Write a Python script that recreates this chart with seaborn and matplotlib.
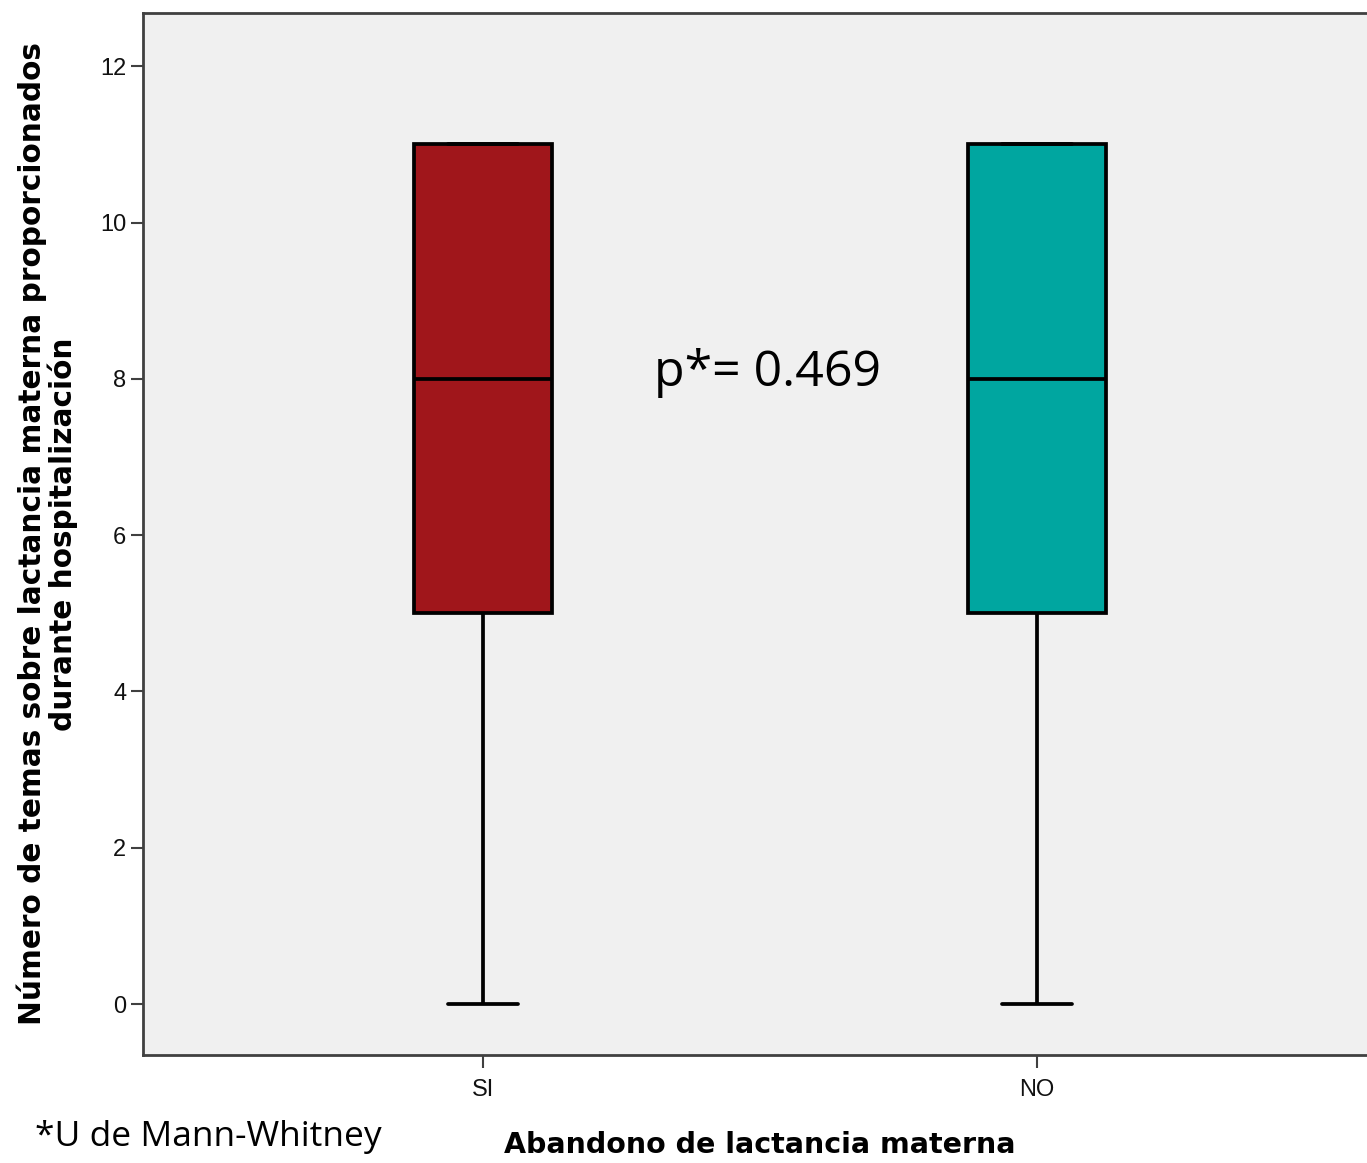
import numpy as np
import pandas as pd
import matplotlib
matplotlib.use("Agg")
import matplotlib.pyplot as plt
import seaborn as sns

# datos (resumen: min, Q1, mediana, Q3, max)
grupos = ["SI", "NO"]
valores_si = [0, 5, 8, 11, 11]
valores_no = [0, 5, 8, 11, 11]
colores = ["#A0161B", "#00A6A0"]

data = pd.DataFrame({
    "Abandono": ["SI"] * len(valores_si) + ["NO"] * len(valores_no),
    "Temas": valores_si + valores_no,
})

sns.set_style("white")
plt.rcParams["font.family"] = ["DejaVu Sans"]
plt.rcParams["text.color"] = "black"
plt.rcParams["axes.labelcolor"] = "black"

fig = plt.figure(figsize=(13.67, 11.63), dpi=100)
ax = fig.add_axes([0.1046, 0.0929, 0.9027, 0.8959])
ax.set_facecolor("#F0F0F0")

sns.boxplot(data=data, x="Abandono", y="Temas", hue="Abandono", order=grupos,
            hue_order=grupos, palette=colores, saturation=1, width=0.25,
            linecolor="black", linewidth=2.7, legend=False, ax=ax)

ax.set_xlim(-0.614, 1.614)
ax.set_ylim(-0.65, 12.68)
ax.set_yticks([0, 2, 4, 6, 8, 10, 12])

for s in ax.spines.values():
    s.set_color("#404040")
    s.set_linewidth(2)

ax.tick_params(axis="both", direction="out", length=9, width=1.5, color="#404040",
               labelsize=17, labelcolor="#111111", left=True, bottom=True)
ax.tick_params(axis="x", pad=8)
ax.tick_params(axis="y", pad=3)
for lab in ax.get_xticklabels() + ax.get_yticklabels():
    lab.set_family(["Liberation Sans"])

ax.set_ylabel("Número de temas sobre lactancia materna proporcionados\ndurante hospitalización",
              fontsize=21.3, fontweight="bold", labelpad=16, linespacing=1.0)
ax.set_xlabel("Abandono de lactancia materna", fontsize=20.5, fontweight="bold",
              labelpad=22)

ax.text(0.514, 8.08, "p*= 0.469", fontsize=36, family=["Open Sans", "DejaVu Sans"],
        ha="center", va="center")
fig.text(35 / 1367, 1 - 1146 / 1163, "*U de Mann-Whitney", fontsize=25.5,
         family=["Open Sans", "DejaVu Sans"], ha="left", va="baseline")

fig.savefig("out.png", dpi=100)
